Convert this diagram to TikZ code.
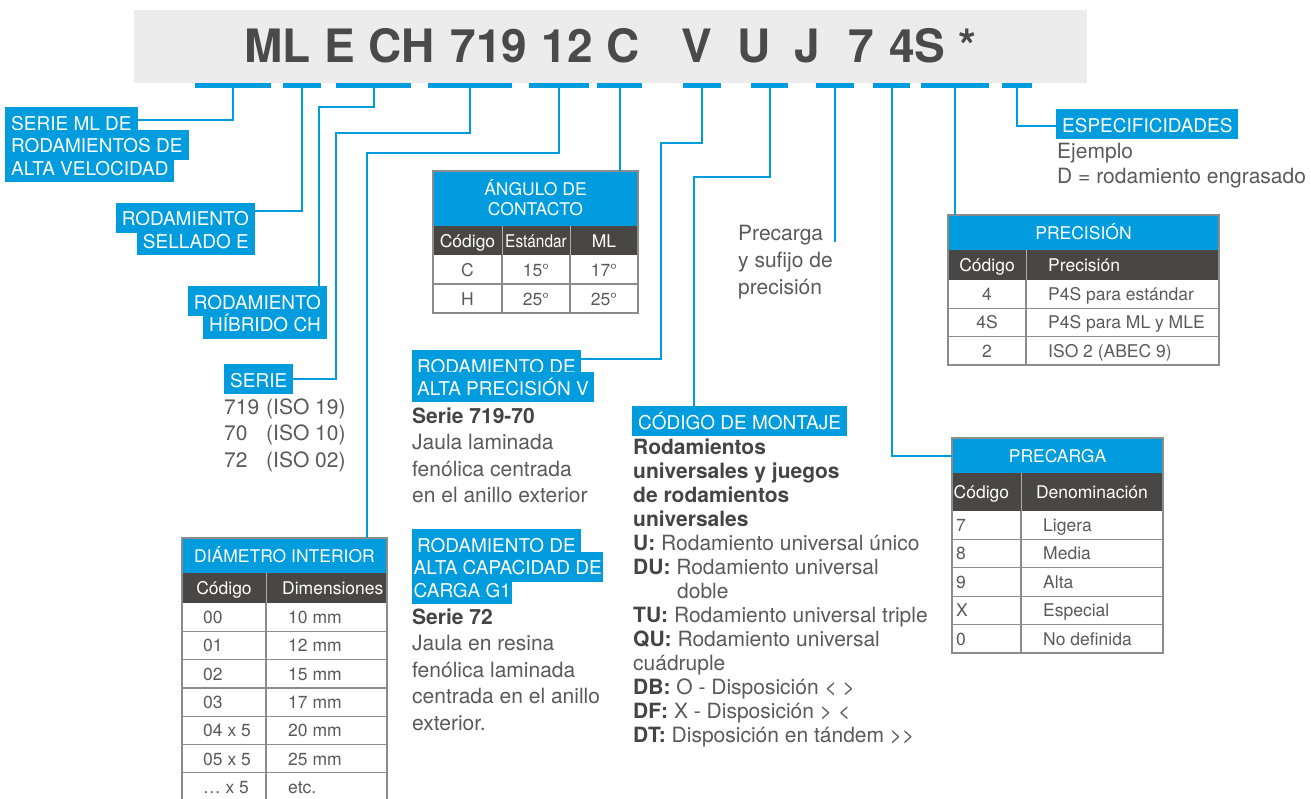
\documentclass[tikz,border=0pt]{standalone}
\usepackage{fontspec}
\setmainfont{TeX Gyre Heros}
\definecolor{sblue}{RGB}{0,156,222}
\definecolor{sdark}{RGB}{72,71,70}
\definecolor{sbox}{RGB}{236,236,236}
\definecolor{stext}{RGB}{90,90,90}
\definecolor{sbold}{RGB}{68,68,68}
\definecolor{stitle}{RGB}{74,74,74}
\definecolor{sgrid}{RGB}{140,140,140}
\definecolor{sdiv}{RGB}{175,175,175}
\newcommand{\bt}[1]{\textcolor{sbold}{\textbf{#1}}}
\begin{document}
\begin{tikzpicture}[x=1pt,y=-1pt,
  bar/.style={fill=sblue, inner sep=0pt, minimum height=5.5pt, draw=none},
  conn/.style={draw=sblue, line width=2pt},
  lab/.style={fill=sblue, text=white, font=\fontsize{19}{22}\selectfont, inner xsep=6pt, inner ysep=0pt, text height=23pt, text depth=7pt},
  body/.style={text=stext, font=\fontsize{21}{24}\selectfont, inner sep=0pt, anchor=base west},
  bbody/.style={body, text=sbold, font=\fontsize{21}{24}\selectfont\bfseries},
  ttl/.style={text=stitle, font=\fontsize{46}{50}\selectfont\bfseries, inner sep=0pt, anchor=base},
  cell/.style={text=stext, font=\fontsize{17.5}{20}\selectfont, inner sep=0pt},
  hcell/.style={cell, text=white},
  hdr/.style={fill=sblue, draw=none, inner sep=0pt, anchor=north west},
  grid/.style={draw=sgrid, line width=1.2pt},
  dv/.style={draw=sdiv, line width=1pt}]
\useasboundingbox (0,0) rectangle (1311,798);
\fill[white] (0,0) rectangle (1311,798);

% title box
\fill[sbox] (134,10) rectangle (1087,82.5);
\node[ttl] (tML) at (277.5,62) {ML};
\node[ttl] (tE) at (340,62) {E};
\node[ttl] (tCH) at (401.5,62) {CH};
\node[ttl] (t719) at (489,62) {719};
\node[ttl] (t12) at (567,62) {12};
\node[ttl] (tC) at (623.5,62) {C};
\node[ttl] (tV) at (696.5,62) {V};
\node[ttl] (tU) at (754.5,62) {U};
\node[ttl] (tJ) at (807,62) {J};
\node[ttl] (t7) at (861.5,62) {7};
\node[ttl] (t4S) at (917.5,62) {4S};
\node[ttl] (tAst) at (967,62) {*};

% bars
\node[bar, minimum width=76pt] (bML) at (233,85.5) {};
\node[bar, minimum width=38pt] (bE) at (302,85.5) {};
\node[bar, minimum width=75pt] (bCH) at (373.5,85.5) {};
\node[bar, minimum width=84pt] (b719) at (470,85.5) {};
\node[bar, minimum width=60pt] (b12) at (559,85.5) {};
\node[bar, minimum width=45pt] (bC) at (619.5,85.5) {};
\node[bar, minimum width=38pt] (bV) at (702,85.5) {};
\node[bar, minimum width=37pt] (bU) at (769.5,85.5) {};
\node[bar, minimum width=38pt] (bJ) at (835,85.5) {};
\node[bar, minimum width=37pt] (b7) at (891.5,85.5) {};
\node[bar, minimum width=68pt] (b4S) at (955,85.5) {};
\node[bar, minimum width=30pt] (bAst) at (1017,85.5) {};

% labels
\node[lab, anchor=base west] (lML1) at (5,130) {SERIE ML DE};
\node[lab, anchor=base west] (lML2) at (5,152.5) {RODAMIENTOS DE};
\node[lab, anchor=base west] (lML3) at (5,175) {ALTA VELOCIDAD};

\node[lab, anchor=base east] (lE1) at (255,225.5) {RODAMIENTO};
\node[lab, anchor=base east] (lE2) at (255,248) {SELLADO E};

\node[lab, anchor=base east] (lCH1) at (327,309) {RODAMIENTO};
\node[lab, anchor=base east] (lCH2) at (327,331.5) {HÍBRIDO CH};

\node[lab, anchor=base west] (lSerie) at (224,387) {SERIE};
\node[body] (s1a) at (224,414) {719};
\node[body] (s1b) at (266,414) {(ISO 19)};
\node[body] (s2a) at (224,440.5) {70};
\node[body] (s2b) at (266,440.5) {(ISO 10)};
\node[body] (s3a) at (224,467) {72};
\node[body] (s3b) at (266,467) {(ISO 02)};

\node[lab, anchor=base west, inner xsep=5pt] (lV1) at (412,373) {RODAMIENTO DE};
\node[lab, anchor=base west, inner xsep=5pt] (lV2) at (412,395) {ALTA PRECISIÓN V};
\node[bbody] (v1) at (412,423) {Serie 719-70};
\node[body] (v2) at (412,449.5) {Jaula laminada};
\node[body] (v3) at (412,476) {fenólica centrada};
\node[body] (v4) at (412,502.5) {en el anillo exterior};

\node[lab, anchor=base west, inner xsep=5pt] (lG1) at (412,552) {RODAMIENTO DE};
\node[lab, anchor=base west, inner xsep=1.5pt] (lG2) at (412,574.5) {ALTA CAPACIDAD DE};
\node[lab, anchor=base west, inner xsep=1.5pt] (lG3) at (412,597) {CARGA G1};
\node[bbody] (g1) at (412,624) {Serie 72};
\node[body] (g2) at (412,650.5) {Jaula en resina};
\node[body] (g3) at (412,677) {fenólica laminada};
\node[body] (g4) at (412,703.5) {centrada en el anillo};
\node[body] (g5) at (412,730) {exterior.};

\node[lab, anchor=base west] (lMont) at (632,429) {CÓDIGO DE MONTAJE};
\node[bbody] (m1) at (633,454) {Rodamientos};
\node[bbody] (m2) at (633,478) {universales y juegos};
\node[bbody] (m3) at (633,502) {de rodamientos};
\node[bbody] (m4) at (633,526) {universales};
\node[body] (m5) at (633,550) {\bt{U:} Rodamiento universal único};
\node[body] (m6) at (633,574) {\bt{DU:} Rodamiento universal};
\node[body] (m7) at (677,598) {doble};
\node[body] (m8) at (633,622) {\bt{TU:} Rodamiento universal triple};
\node[body] (m9) at (633,646) {\bt{QU:} Rodamiento universal};
\node[body] (m10) at (633,670) {cuádruple};
\node[body] (m11) at (633,694) {\bt{DB:} O - Disposición < >};
\node[body] (m12) at (633,718) {\bt{DF:} X - Disposición > <};
\node[body] (m13) at (633,742) {\bt{DT:} Disposición en tándem >{}>};

\node[body] (p1) at (738,240) {Precarga};
\node[body] (p2) at (738,267) {y sufijo de};
\node[body] (p3) at (738,294) {precisión};
\coordinate (kJ) at (835,242);

\node[lab, anchor=base west] (lEsp) at (1056,132) {ESPECIFICIDADES};
\node[body] (e1) at (1057,158) {Ejemplo};
\node[body] (e2) at (1057,183) {D = rodamiento engrasado};

% ---------- DIAMETRO INTERIOR table
\node[hdr, minimum width=205pt, minimum height=35pt] (diamHead) at (182,538) {};
\node[hcell, anchor=base] (diamT) at (284.5,562) {DIÁMETRO INTERIOR};
\fill[sdark] (182,573) rectangle (387,603);
\draw[dv] (266,573) -- (266,603);
\node[hcell, anchor=base] (diamC) at (224,594) {Código};
\node[hcell, anchor=base west] (diamD) at (282,594) {Dimensiones};
\foreach \i/\c/\d in {0/00/10 mm,1/01/12 mm,2/02/15 mm,3/03/17 mm,4/04 x 5/20 mm,5/05 x 5/25 mm,6/\dots{} x 5/etc.}{
  \node[cell, anchor=base west] (dc\i) at (203,603+\i*28.3+20.5) {\c};
  \node[cell, anchor=base west] (dd\i) at (288,603+\i*28.3+20.5) {\d};
}
\foreach \i in {1,...,7}{\draw[grid] (182,603+\i*28.3) -- (387,603+\i*28.3);}
\draw[grid] (266,603) -- (266,805);
\draw[grid] (182,538) rectangle (387,805);

% ---------- ANGULO table
\node[hdr, minimum width=205pt, minimum height=55pt] (angHead) at (433,171) {};
\node[hcell, anchor=base] (angT1) at (535.5,195.5) {ÁNGULO DE};
\node[hcell, anchor=base] (angT2) at (535.5,215) {CONTACTO};
\fill[sdark] (433,226) rectangle (638,255);
\draw[dv] (502,226) -- (502,255);
\draw[dv] (570,226) -- (570,255);
\node[hcell, anchor=base] (angH1) at (467.5,247) {Código};
\node[hcell, anchor=base] (angH2) at (536,247) {\scalebox{0.88}[1]{Estándar}};
\node[hcell, anchor=base] (angH3) at (604,247) {ML};
\node[cell, anchor=base] (a11) at (467.5,276) {C};
\node[cell, anchor=base] (a12) at (536,276) {15°};
\node[cell, anchor=base] (a13) at (604,276) {17°};
\node[cell, anchor=base] (a21) at (467.5,305) {H};
\node[cell, anchor=base] (a22) at (536,305) {25°};
\node[cell, anchor=base] (a23) at (604,305) {25°};
\draw[grid] (433,284) -- (638,284);
\draw[grid] (502,255) -- (502,313);
\draw[grid] (570,255) -- (570,313);
\draw[grid] (433,171) rectangle (638,313);

% ---------- PRECISION table
\node[hdr, minimum width=271pt, minimum height=35pt] (precisHead) at (948,215) {};
\node[hcell, anchor=base] (prT) at (1083.5,239) {PRECISIÓN};
\fill[sdark] (948,250) rectangle (1219,280);
\draw[dv] (1026,250) -- (1026,280);
\node[hcell, anchor=base] (prH1) at (987,271.5) {Código};
\node[hcell, anchor=base west] (prH2) at (1048,271.5) {Precisión};
\foreach \i/\c/\d in {0/4/P4S para estándar,1/4S/P4S para ML y MLE,2/2/ISO 2 (ABEC 9)}{
  \node[cell, anchor=base] (pc\i) at (987,280+\i*28.33+20.5) {\c};
  \node[cell, anchor=base west] (pd\i) at (1048,280+\i*28.33+20.5) {\d};
}
\foreach \i in {1,2}{\draw[grid] (948,280+\i*28.33) -- (1219,280+\i*28.33);}
\draw[grid] (1026,280) -- (1026,365);
\draw[grid] (948,215) rectangle (1219,365);

% ---------- PRECARGA table
\node[hdr, minimum width=211pt, minimum height=35pt] (precHead) at (952,438) {};
\node[hcell, anchor=base] (pcT) at (1057.5,462) {PRECARGA};
\fill[sdark] (952,473) rectangle (1163,511);
\draw[dv] (1021,473) -- (1021,511);
\node[hcell, anchor=base west] (pcH1) at (953.5,498.5) {Código};
\node[hcell, anchor=base] (pcH2) at (1092,498.5) {Denominación};
\foreach \i/\c/\d in {0/7/Ligera,1/8/Media,2/9/Alta,3/X/Especial,4/0/No definida}{
  \node[cell, anchor=base west] (rc\i) at (956,511+\i*28.4+20.5) {\c};
  \node[cell, anchor=base west] (rd\i) at (1043,511+\i*28.4+20.5) {\d};
}
\foreach \i in {1,...,4}{\draw[grid] (952,511+\i*28.4) -- (1163,511+\i*28.4);}
\draw[grid] (1021,511) -- (1021,653);
\draw[grid] (952,438) rectangle (1163,653);

% ---------- connectors
\coordinate (kCH) at (319,107);
\coordinate (k719) at (336,133);
\coordinate (k12) at (367,153);
\coordinate (kV) at (661,143);
\coordinate (kU) at (694,177);
\draw[conn] (bML.south) |- ([yshift=2pt]lML1.east);
\draw[conn] (bE.south) |- ([yshift=6.5pt]lE1.east);
\draw[conn] (bCH.south) |- (kCH) -- (kCH |- lCH1.north);
\draw[conn] (b719.south) |- (k719) |- (lSerie.east);
\draw[conn] (b12.south) |- (k12) -- (k12 |- diamHead.north);
\draw[conn] (bC.south) -- (bC.south |- angHead.north);
\draw[conn] (bV.south) |- (kV) |- ([yshift=6pt]lV1.east);
\draw[conn] (bU.south) |- (kU) -- (kU |- lMont.north);
\draw[conn] (bJ.south) -- (kJ);
\draw[conn] (b7.south) |- (precHead.west);
\draw[conn] (b4S.south) -- (b4S.south |- precisHead.north);
\draw[conn] (bAst.south) |- ([yshift=-2pt]lEsp.west);
\end{tikzpicture}
\end{document}
